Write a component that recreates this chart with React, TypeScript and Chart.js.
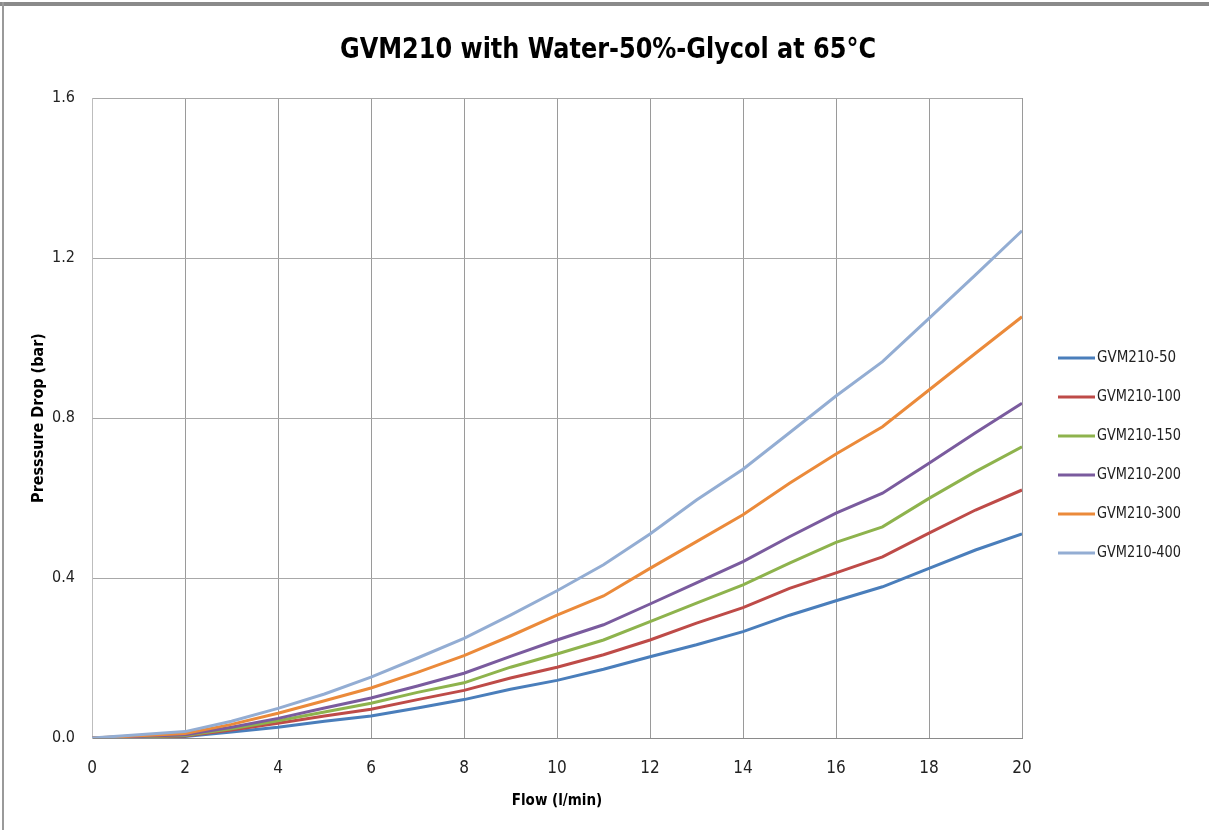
import React, { useEffect, useRef } from "react";
import { Chart, registerables } from "chart.js";

Chart.register(...registerables);

const flow = [0, 2, 3, 4, 5, 6, 7, 8, 9, 10, 11, 12, 13, 14, 15, 16, 17, 18, 19, 20];

const gvm50 = [0, 0.004, 0.015, 0.027, 0.042, 0.055, 0.075, 0.096, 0.122, 0.144, 0.172, 0.203, 0.233, 0.266, 0.307, 0.343, 0.378, 0.424, 0.47, 0.51];
const gvm100 = [0, 0.005, 0.02, 0.037, 0.055, 0.072, 0.096, 0.119, 0.15, 0.177, 0.208, 0.245, 0.287, 0.326, 0.374, 0.413, 0.453, 0.512, 0.57, 0.62];
const gvm150 = [0, 0.006, 0.023, 0.043, 0.065, 0.087, 0.114, 0.138, 0.177, 0.21, 0.245, 0.291, 0.337, 0.383, 0.437, 0.489, 0.528, 0.599, 0.666, 0.728];
const gvm200 = [0, 0.008, 0.027, 0.049, 0.075, 0.1, 0.13, 0.162, 0.204, 0.245, 0.283, 0.335, 0.388, 0.441, 0.503, 0.562, 0.612, 0.687, 0.763, 0.837];
const gvm300 = [0, 0.011, 0.034, 0.062, 0.093, 0.125, 0.164, 0.206, 0.255, 0.307, 0.355, 0.424, 0.491, 0.558, 0.637, 0.71, 0.778, 0.87, 0.962, 1.053];
const gvm400 = [0, 0.016, 0.042, 0.074, 0.11, 0.152, 0.2, 0.249, 0.307, 0.368, 0.433, 0.51, 0.595, 0.672, 0.763, 0.855, 0.941, 1.049, 1.158, 1.268];

const seriesNames = ["GVM210-50", "GVM210-100", "GVM210-150", "GVM210-200", "GVM210-300", "GVM210-400"];
const seriesValues = [gvm50, gvm100, gvm150, gvm200, gvm300, gvm400];
const seriesColors = ["#4A7EBB", "#BE4B48", "#8EB34D", "#7A5B9E", "#EB8A3A", "#93ADD3"];

const chartTitle = "GVM210 with Water-50%-Glycol at 65°C";
const xTitle = "Flow (l/min)";
const yTitle = "Presssure Drop (bar)";

const NARROW = "'Liberation Sans Narrow', 'DejaVu Sans Condensed', 'Liberation Sans', sans-serif";

const overlayPlugin = {
  id: "overlay",
  afterDraw(chart: any) {
    const ctx = chart.ctx;
    ctx.save();
    // title
    ctx.fillStyle = "#000";
    ctx.font = `bold 28px ${NARROW}`;
    ctx.textAlign = "center";
    ctx.textBaseline = "alphabetic";
    ctx.fillText(chartTitle, 608, 58, 536);
    // legend
    ctx.font = `15px ${NARROW}`;
    ctx.textAlign = "left";
    ctx.textBaseline = "middle";
    seriesNames.forEach((name, i) => {
      const y = 358 + i * 39;
      ctx.strokeStyle = seriesColors[i];
      ctx.lineWidth = 3;
      ctx.beginPath();
      ctx.moveTo(1058, y);
      ctx.lineTo(1095, y);
      ctx.stroke();
      ctx.fillStyle = "#222";
      ctx.fillText(name, 1097, y, 84);
    });
    ctx.restore();
  },
};

export default function App() {
  const ref = useRef<HTMLCanvasElement | null>(null);
  useEffect(() => {
    document.body.style.margin = "0";
    const canvas = ref.current;
    if (!canvas) return;
    const chart = new Chart(canvas, {
      type: "line",
      data: {
        datasets: seriesValues.map((vals, i) => ({
          label: seriesNames[i],
          data: vals.map((v, k) => ({ x: flow[k], y: v })),
          borderColor: seriesColors[i],
          backgroundColor: seriesColors[i],
          borderWidth: 3,
          pointRadius: 0,
          tension: 0,
          order: seriesNames.length - i,
        })),
      },
      options: {
        animation: false,
        responsive: false,
        maintainAspectRatio: false,
        layout: { padding: { top: 98, right: 187, left: 0, bottom: 0 } },
        plugins: {
          legend: { display: false },
          title: { display: false },
          tooltip: { enabled: false },
        },
        scales: {
          x: {
            type: "linear",
            min: 0,
            max: 20,
            afterFit: (s: any) => {
              s.height = 92;
            },
            ticks: {
              stepSize: 2,
              padding: 20,
              color: "#222",
              font: { family: NARROW, size: 17 },
            },
            grid: { color: "#9a9a9a", lineWidth: 1, drawTicks: false },
            border: { color: "#8a8a8a", width: 1 },
            title: {
              display: true,
              text: xTitle,
              color: "#000",
              font: { family: NARROW, size: 15, weight: "bold" },
              padding: { top: 0, bottom: 20 },
            },
          },
          y: {
            min: 0,
            max: 1.6,
            afterFit: (s: any) => {
              s.width = 92;
            },
            ticks: {
              stepSize: 0.4,
              padding: 17,
              color: "#222",
              font: { family: NARROW, size: 16 },
              callback: (v: any) => Number(v).toFixed(1),
            },
            grid: { color: "#a8a8a8", lineWidth: 1, drawTicks: false },
            border: { color: "#bdbdbd", width: 1 },
            title: {
              display: true,
              text: yTitle,
              color: "#000",
              font: { family: NARROW, size: 16, weight: "bold" },
              padding: { top: 29, bottom: 0 },
            },
          },
        },
      },
      plugins: [overlayPlugin],
    });
    return () => chart.destroy();
  }, []);

  return (
    <div style={{ position: "relative", width: 1209, height: 830, background: "#fff", overflow: "hidden" }}>
      <canvas ref={ref} width={1209} height={830} style={{ position: "absolute", left: 0, top: 0, width: 1209, height: 830 }} />
      <div style={{ position: "absolute", left: 0, top: 2, width: 1209, height: 4, background: "#8a8a8a" }} />
      <div style={{ position: "absolute", left: 2, top: 2, width: 2, height: 828, background: "#9a9a9a" }} />
    </div>
  );
}
